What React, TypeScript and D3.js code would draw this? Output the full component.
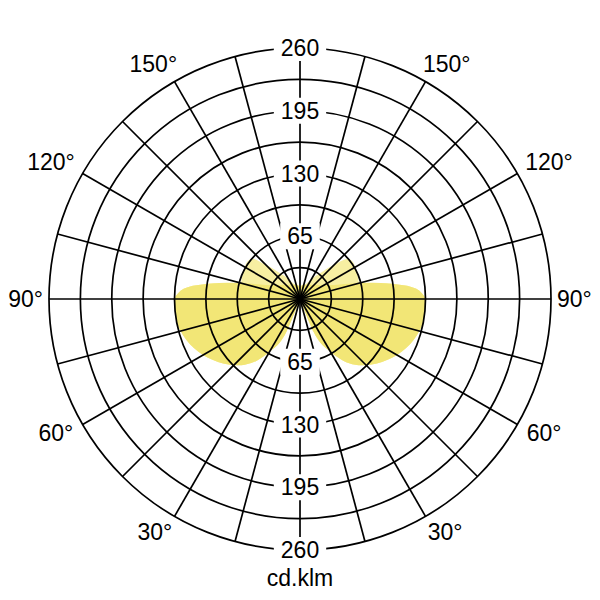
import React from "react";
import * as d3 from "d3";

// Photometric data (cd/klm), gamma measured from nadir (0°) to zenith (180°)
const gammaDeg = [0, 5, 10, 15, 20, 22.5, 25, 30, 35, 40, 45, 50, 55, 60, 65, 70, 75, 80, 85, 90, 95, 100, 105, 110, 115, 120, 125, 130, 135, 140, 145, 150, 155, 160, 170, 180];
const intensityMain = [3, 3, 3, 4, 6, 37, 50, 63, 78, 89, 97, 104, 110, 116, 121, 125, 128, 130, 130, 130, 121, 93, 64, 44, 34, 29, 25, 23, 21, 19, 18, 17, 16, 16, 15, 12];
const intensityLobe = [3, 3, 3, 4, 6, 37, 50, 63, 78, 89, 97, 104, 110, 116, 121, 125, 128, 130, 130, 130, 121, 93, 64, 64, 65, 66, 67, 65, 50, 38, 30, 24, 19, 16, 12, 10];

const ringValues = [32.5, 65, 97.5, 130, 162.5, 195, 227.5, 260];
const ringLabels = [65, 130, 195, 260];
const spokeAngles = d3.range(0, 360, 15);
const angleLabels = [30, 60, 90, 120, 150];
const unitLabel = "cd.klm";

const W = 600;
const H = 600;
const cx = 300;
const cy = 299;
const R = 251;
const FONT = "'Liberation Sans', Arial, Helvetica, sans-serif";
const FS = 23;

export default function App() {
  const r = d3.scaleLinear().domain([0, 260]).range([0, R]);
  const toRad = (d: number) => (d * Math.PI) / 180;

  const buildPath = (vals: number[]) => {
    const pts: [number, number][] = [];
    gammaDeg.forEach((g, i) => pts.push([Math.PI - toRad(g), vals[i]]));
    for (let i = gammaDeg.length - 1; i >= 0; i--) {
      pts.push([Math.PI + toRad(gammaDeg[i]), vals[i]]);
    }
    const line = d3
      .lineRadial<[number, number]>()
      .angle((d) => d[0])
      .radius((d) => r(d[1]))
      .curve(d3.curveCatmullRomClosed.alpha(0.5));
    return line(pts) || "";
  };

  const capH = FS * 0.716;
  const gap = 6;

  const angleTexts: { x: number; y: number; t: string }[] = [];
  angleLabels.forEach((a) => {
    const t = `${a}°`;
    const w = (t.length - 1) * 0.556 * FS + 0.4 * FS;
    const hw = w / 2;
    const hh = capH / 2;
    const th = toRad(a); // from nadir
    const c = Math.cos(th);
    const dist = R + gap + hw * Math.abs(Math.sin(th)) + hh * Math.abs(c);
    [1, -1].forEach((side) => {
      const x = cx + side * (dist * Math.sin(th) + 10 * Math.abs(c));
      const y = cy + dist * c - Math.sign(Math.round(c * 1000)) * 4;
      angleTexts.push({ x, y, t });
    });
  });

  return (
    <svg
      width={W}
      height={H}
      style={{ position: "absolute", left: 0, top: 0, background: "#fff" }}
    >
      <rect x={0} y={0} width={W} height={H} fill="#fff" />
      <g transform={`translate(${cx},${cy})`}>
        <path d={buildPath(intensityLobe)} fill="#f7efa2" stroke="none" />
        <path d={buildPath(intensityMain)} fill="#f2e676" stroke="none" />
        {ringValues.map((v) => (
          <circle key={v} r={r(v)} fill="none" stroke="#000" strokeWidth={1.7} />
        ))}
        {spokeAngles.map((a) => (
          <line
            key={a}
            x1={0}
            y1={0}
            x2={r(260) * Math.sin(toRad(a))}
            y2={-r(260) * Math.cos(toRad(a))}
            stroke="#000"
            strokeWidth={1.7}
          />
        ))}
        <circle r={3} fill="#000" />
        {ringLabels.map((v) =>
          [-1, 1].map((s) => {
            const tw = String(v).length * 0.556 * FS;
            return (
              <g key={`${v}${s}`} transform={`translate(0,${s * r(v)})`}>
                <rect x={-tw / 2 - 7} y={-13} width={tw + 14} height={26} fill="#fff" />
                <text
                  x={0}
                  y={capH / 2}
                  textAnchor="middle"
                  fontFamily={FONT}
                  fontSize={FS}
                  fill="#000"
                >
                  {v}
                </text>
              </g>
            );
          })
        )}
      </g>
      {angleTexts.map((d, i) => (
        <text
          key={i}
          x={d.x}
          y={d.y + capH / 2}
          textAnchor="middle"
          fontFamily={FONT}
          fontSize={FS}
          fill="#000"
        >
          {d.t}
        </text>
      ))}
      <text x={cx} y={586} textAnchor="middle" fontFamily={FONT} fontSize={FS} fill="#000">
        {unitLabel}
      </text>
    </svg>
  );
}
